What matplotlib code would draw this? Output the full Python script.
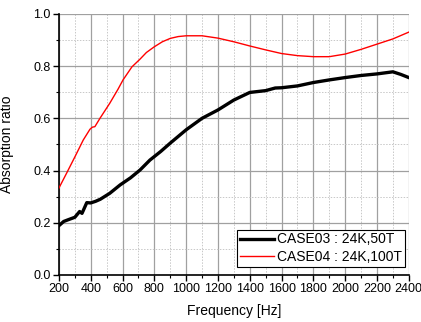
import matplotlib
matplotlib.use("Agg")
import matplotlib.pyplot as plt
from matplotlib.ticker import MultipleLocator

plt.rcParams['font.family'] = ['Liberation Sans', 'DejaVu Sans']

freq_black = [200, 230, 260, 300, 330, 345, 375, 400, 430, 460, 520, 585, 650, 710, 772, 840, 900, 1000, 1100, 1200,
              1300, 1400, 1500, 1560, 1600, 1700, 1800, 1900, 2000, 2100, 2200, 2300, 2350, 2400]
case03 = [0.189, 0.205, 0.212, 0.221, 0.243, 0.236, 0.277, 0.276, 0.282, 0.290, 0.313, 0.345, 0.372, 0.402, 0.440,
          0.473, 0.505, 0.556, 0.600, 0.632, 0.670, 0.699, 0.706, 0.716, 0.717, 0.724, 0.737, 0.747, 0.756, 0.764,
          0.770, 0.778, 0.768, 0.756]

freq_red = [200, 250, 300, 353, 395, 410, 426, 458, 520, 572, 603, 659, 709, 750, 800, 850, 900, 950, 1000, 1100,
            1200, 1300, 1400, 1500, 1600, 1700, 1800, 1900, 2000, 2100, 2200, 2300, 2400]
case04 = [0.333, 0.392, 0.452, 0.517, 0.558, 0.566, 0.568, 0.600, 0.658, 0.712, 0.747, 0.797, 0.826, 0.852, 0.874,
          0.893, 0.906, 0.913, 0.916, 0.916, 0.907, 0.893, 0.877, 0.862, 0.848, 0.840, 0.836, 0.836, 0.846, 0.864,
          0.884, 0.904, 0.930]

labels = ["CASE03 : 24K,50T", "CASE04 : 24K,100T"]

fig = plt.figure(figsize=(4.21, 3.22), dpi=100)
ax = fig.add_axes([0.140, 0.146, 0.831, 0.811])

ax.plot(freq_black, case03, color='black', lw=2.4, label=labels[0], zorder=3)
ax.plot(freq_red, case04, color='#ff0000', lw=1.0, label=labels[1], zorder=3)

ax.set_xlim(200, 2400)
ax.set_ylim(0.0, 1.0)
ax.xaxis.set_major_locator(MultipleLocator(200))
ax.xaxis.set_minor_locator(MultipleLocator(100))
ax.yaxis.set_major_locator(MultipleLocator(0.2))
ax.yaxis.set_minor_locator(MultipleLocator(0.1))
ax.yaxis.set_major_formatter(matplotlib.ticker.FormatStrFormatter('%.1f'))

ax.grid(which='major', color='#a0a0a0', lw=0.9, ls='-')
ax.grid(which='minor', color='#c8c8c8', lw=0.7, ls=(0, (1.5, 1.5)))
ax.set_axisbelow(True)

for s in ['top', 'right']:
    ax.spines[s].set_visible(False)
for s in ['left', 'bottom']:
    ax.spines[s].set_linewidth(1.2)

ax.tick_params(which='major', direction='out', length=4, width=1.0, labelsize=9, pad=2)
ax.tick_params(which='minor', direction='out', length=2.5, width=0.8)

ax.set_xlabel("Frequency [Hz]", fontsize=10, labelpad=6)
ax.set_ylabel("Absorption ratio", fontsize=10, labelpad=14)

leg = ax.legend(loc='lower right', bbox_to_anchor=(0.9886, 0.0307), fontsize=10, frameon=True, fancybox=False,
                edgecolor='black', framealpha=1, borderpad=0.2, labelspacing=0.27, handlelength=2.4,
                handletextpad=0.25, borderaxespad=0.0)
leg.get_frame().set_linewidth(0.8)

fig.savefig("out.png", dpi=100)
